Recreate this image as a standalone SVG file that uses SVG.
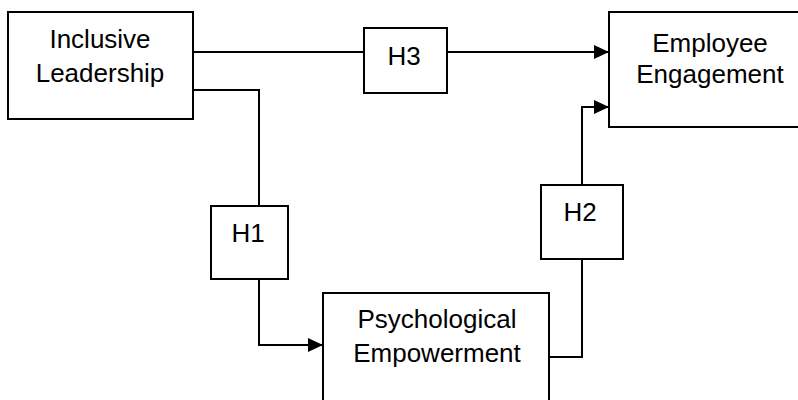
<svg xmlns="http://www.w3.org/2000/svg" width="798" height="400" viewBox="0 0 798 400">
<defs>
<marker id="arrow" markerUnits="userSpaceOnUse" markerWidth="16" markerHeight="15" refX="15" refY="7" orient="auto">
<path d="M0,0 L15,7 L0,14 z" fill="#000"/>
</marker>
<style>
.box{fill:#fff;stroke:#000;stroke-width:2}
.lbl{font-family:"Liberation Sans",Arial,sans-serif;font-size:26px;fill:#000;text-anchor:middle}
.conn{fill:none;stroke:#000;stroke-width:2}
</style>
</defs>
<rect width="798" height="400" fill="#fff"/>
<g id="connectors">
<path class="conn" d="M193,52 H364"/>
<path class="conn" d="M447,52 H609" marker-end="url(#arrow)"/>
<path class="conn" d="M193,90 H259 V206"/>
<path class="conn" d="M259,279 V345 H323" marker-end="url(#arrow)"/>
<path class="conn" d="M549,357 H582 V259"/>
<path class="conn" d="M582,185 V107 H609" marker-end="url(#arrow)"/>
</g>
<g id="inclusive-leadership">
<rect class="box" x="8" y="12" width="185" height="107"/>
<text class="lbl" x="100" y="48">Inclusive</text>
<text class="lbl" x="100" y="82">Leadership</text>
</g>
<g id="employee-engagement">
<rect class="box" x="609" y="12" width="200" height="115"/>
<text class="lbl" x="710" y="52">Employee</text>
<text class="lbl" x="710" y="83">Engagement</text>
</g>
<g id="psychological-empowerment">
<rect class="box" x="323" y="293" width="226" height="120"/>
<text class="lbl" x="437" y="328">Psychological</text>
<text class="lbl" x="437" y="362">Empowerment</text>
</g>
<g id="h3">
<rect class="box" x="364" y="28" width="83" height="65"/>
<text class="lbl" x="404" y="65">H3</text>
</g>
<g id="h1">
<rect class="box" x="211" y="206" width="77" height="73"/>
<text class="lbl" x="248" y="242">H1</text>
</g>
<g id="h2">
<rect class="box" x="541" y="185" width="82" height="74"/>
<text class="lbl" x="580" y="221">H2</text>
</g>
</svg>
